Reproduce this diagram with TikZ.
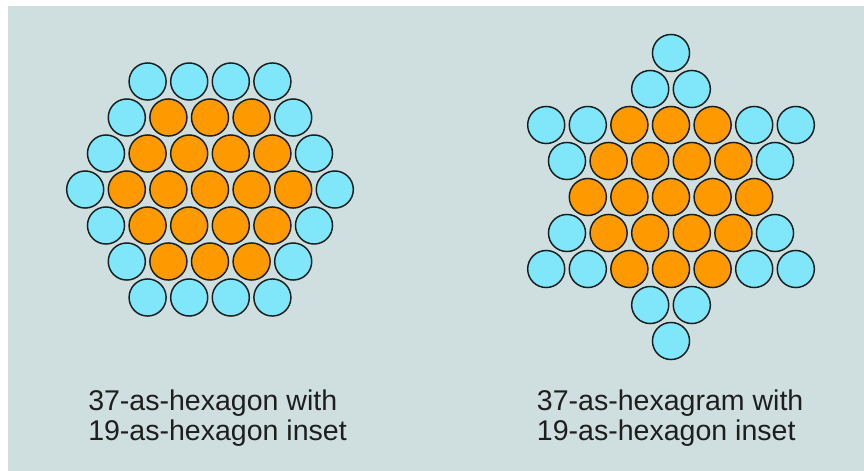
\documentclass[tikz,border=0pt]{standalone}
\usepackage{fontspec}
\setmainfont{Liberation Sans}
\usetikzlibrary{positioning}

\definecolor{bgblue}{RGB}{207,222,222}
\definecolor{ballcyan}{RGB}{128,230,250}
\definecolor{ballorange}{RGB}{255,153,0}
\definecolor{balledge}{RGB}{25,30,30}
\definecolor{captxt}{RGB}{30,30,30}

\begin{document}
\begin{tikzpicture}[x=0.75pt,y=-0.75pt,
        ball/.style={
            circle, draw=balledge,
            line width=1.1pt,
            minimum size=27.8pt,
            inner sep=0pt,
        },
        ballb/.style={ball, fill=ballcyan},
        ballo/.style={ball, fill=ballorange},
        capsty/.style={
            anchor=base west, align=left,
            inner sep=0pt, text=captxt,
            font=\fontsize{21.4}{22.1}\selectfont,
        },
    ]

    \useasboundingbox (0,0) rectangle (864,471);
    \fill[white] (0,0) rectangle (864,471);
    \fill[bgblue] (8,6) rectangle (864,471);

    % 37 as hexagon, 19 inset
    \foreach \n/\row [count=\j from -3] in {4/{b,b,b,b}, 5/{b,o,o,o,b},
            6/{b,o,o,o,o,b}, 7/{b,o,o,o,o,o,b}, 6/{b,o,o,o,o,b},
            5/{b,o,o,o,b}, 4/{b,b,b,b}}
        \foreach \c [count=\i] in \row
            \node[ball\c] (hexL\j-\i) at ({210+(\i-(\n+1)/2)*41.6}, {189.5+\j*36}) {};

    % 37 as hexagram, 19 inset
    \foreach \n/\row [count=\j from -4] in {1/{b}, 2/{b,b}, 7/{b,b,o,o,o,b,b},
            6/{b,o,o,o,o,b}, 5/{o,o,o,o,o}, 6/{b,o,o,o,o,b},
            7/{b,b,o,o,o,b,b}, 2/{b,b}, 1/{b}}
        \foreach \c [count=\i] in \row
            \node[ball\c] (hexR\j-\i) at ({671+(\i-(\n+1)/2)*41.6}, {197+\j*36}) {};

    % captions (base = last line)
    \node[capsty] (capL) at (88,440) {37-as-hexagon with\\19-as-hexagon inset};
    \node[capsty] (capR) at (536.7,440) {37-as-hexagram with\\19-as-hexagon inset};

\end{tikzpicture}
\end{document}
